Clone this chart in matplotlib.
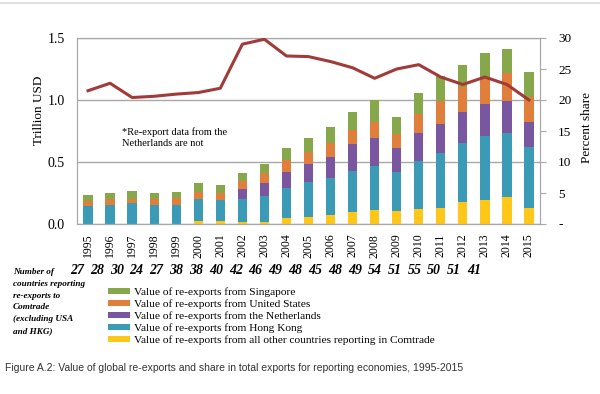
import matplotlib
matplotlib.use("Agg")
import matplotlib.pyplot as plt
from matplotlib.lines import Line2D
import numpy as np

# values (trillion USD, stacked segments)
years = [str(y) for y in range(1995, 2016)]
other = [0.004, 0.004, 0.004, 0.004, 0.004, 0.027, 0.024, 0.019, 0.019, 0.046, 0.059,
         0.073, 0.099, 0.113, 0.105, 0.118, 0.126, 0.180, 0.194, 0.220, 0.127]
hong_kong = [0.141, 0.152, 0.163, 0.149, 0.152, 0.172, 0.170, 0.180, 0.209, 0.244, 0.277,
             0.301, 0.328, 0.355, 0.314, 0.390, 0.444, 0.470, 0.516, 0.511, 0.496]
netherlands = [0.0, 0.0, 0.0, 0.0, 0.0, 0.0, 0.0, 0.083, 0.105, 0.130, 0.148,
               0.169, 0.216, 0.228, 0.191, 0.223, 0.240, 0.250, 0.258, 0.259, 0.200]
united_states = [0.040, 0.043, 0.037, 0.046, 0.051, 0.061, 0.059, 0.065, 0.076, 0.096, 0.099,
                 0.107, 0.115, 0.129, 0.116, 0.156, 0.180, 0.207, 0.207, 0.225, 0.204]
singapore = [0.049, 0.054, 0.060, 0.048, 0.048, 0.068, 0.059, 0.067, 0.075, 0.094, 0.107,
             0.135, 0.142, 0.175, 0.134, 0.173, 0.200, 0.173, 0.205, 0.199, 0.196]
share = [21.5, 22.7, 20.4, 20.6, 20.95, 21.2, 21.9, 29.0, 29.8, 27.1, 27.0,
         26.2, 25.2, 23.5, 25.0, 25.7, 23.7, 22.5, 23.7, 22.5, 20.0]
n_countries = [27, 28, 30, 24, 27, 38, 38, 40, 42, 46, 49, 48, 45, 48, 49, 54, 51, 55, 50, 51, 41]
side_note = ["Number of", "countries reporting", "re-exports to", "Comtrade",
             "(excluding USA", "and HKG)"]

series = [
    ("Value of re-exports from all other countries reporting in Comtrade", other, "#FFC71A"),
    ("Value of re-exports from Hong Kong", hong_kong, "#3B9AB6"),
    ("Value of re-exports from the Netherlands", netherlands, "#7A56A0"),
    ("Value of re-exports from United States", united_states, "#E07E3C"),
    ("Value of re-exports from Singapore", singapore, "#87A84A"),
]

serif = ["Liberation Serif", "DejaVu Serif"]
W, H = 600, 394

fig = plt.figure(figsize=(6, 3.94), dpi=100)
ax = fig.add_axes([77 / W, 1 - 224 / H, (540 - 77) / W, (224 - 38) / H])

x = np.arange(len(years))
bottom = np.zeros(len(years))
handles = []
for label, vals, color in series:
    b = ax.bar(x, vals, width=0.42, bottom=bottom, color=color, label=label, zorder=2)
    bottom += np.array(vals)
    handles.append(b)

ax.set_xlim(-0.5, len(years) - 0.5)
ax.set_ylim(0, 1.5)
ax.set_yticks([0, 0.5, 1.0, 1.5])
ax.set_yticklabels(["0.0", "0.5", "1.0", "1.5"], family=serif, fontsize=10)
ax.yaxis.grid(True, color="#A8A8A8", linewidth=1.0, zorder=0)
ax.set_axisbelow(True)
ax.tick_params(axis="y", length=0, pad=9)
ax.set_xticks(x)
ax.set_xticklabels(years, rotation=90, family=serif, fontsize=8.5)
ax.tick_params(axis="x", length=0, pad=7)
for s in ax.spines.values():
    s.set_color("#A8A8A8")
ax.set_ylabel("Trillion USD", family=serif, fontsize=9.5)
ax.yaxis.set_label_coords(-0.07, 0.61)

ax.text(1.55, 0.78, "*Re-export data from the\nNetherlands are not", family=serif,
        fontsize=7.5, va="top", linespacing=1.25)

ax2 = ax.twinx()
ax2.plot(x, share, color="#A23A3A", linewidth=2.2, zorder=5)
ax2.set_ylim(0, 30)
ax2.set_yticks([0, 5, 10, 15, 20, 25, 30])
ax2.set_yticklabels(["-", "5", "10", "15", "20", "25", "30"], family=serif, fontsize=9.5)
ax2.tick_params(axis="y", length=4, color="#A8A8A8", pad=9)
for s in ax2.spines.values():
    s.set_color("#A8A8A8")
ax2.set_ylabel("Percent share", family=serif, fontsize=9.5)
ax2.yaxis.set_label_coords(1.088, 0.52)

# row with number of reporting countries
for i, n in enumerate(n_countries):
    fig.text((77 + i * 19.85) / W, 1 - 270 / H, str(n), family=serif, fontsize=10,
             fontweight="bold", style="italic", ha="center", va="center")

# side note, one line at a time
for i, line in enumerate(side_note):
    fig.text(13 / W, 1 - (272 + i * 11.8) / H, line, family=serif, fontsize=6.6,
             fontweight="bold", style="italic", va="center")

fig.legend(handles[::-1], [s[0] for s in series][::-1], loc="upper left",
           bbox_to_anchor=(108 / W, 1 - 287 / H), frameon=False, prop={"family": serif, "size": 8.2},
           handlelength=1.9, handleheight=0.45, handletextpad=0.35, labelspacing=0.2,
           borderaxespad=0, borderpad=0)

fig.text(5 / W, 1 - 368 / H,
         "Figure A.2: Value of global re-exports and share in total exports for reporting economies, 1995-2015",
         family=["Liberation Sans", "DejaVu Sans"], fontsize=7.5, color="#333333", va="center")

fig.add_artist(Line2D([0, 1], [1 - 3 / H, 1 - 3 / H], color="#E0E0E0", linewidth=1.5))

fig.savefig("out.png", dpi=100)
